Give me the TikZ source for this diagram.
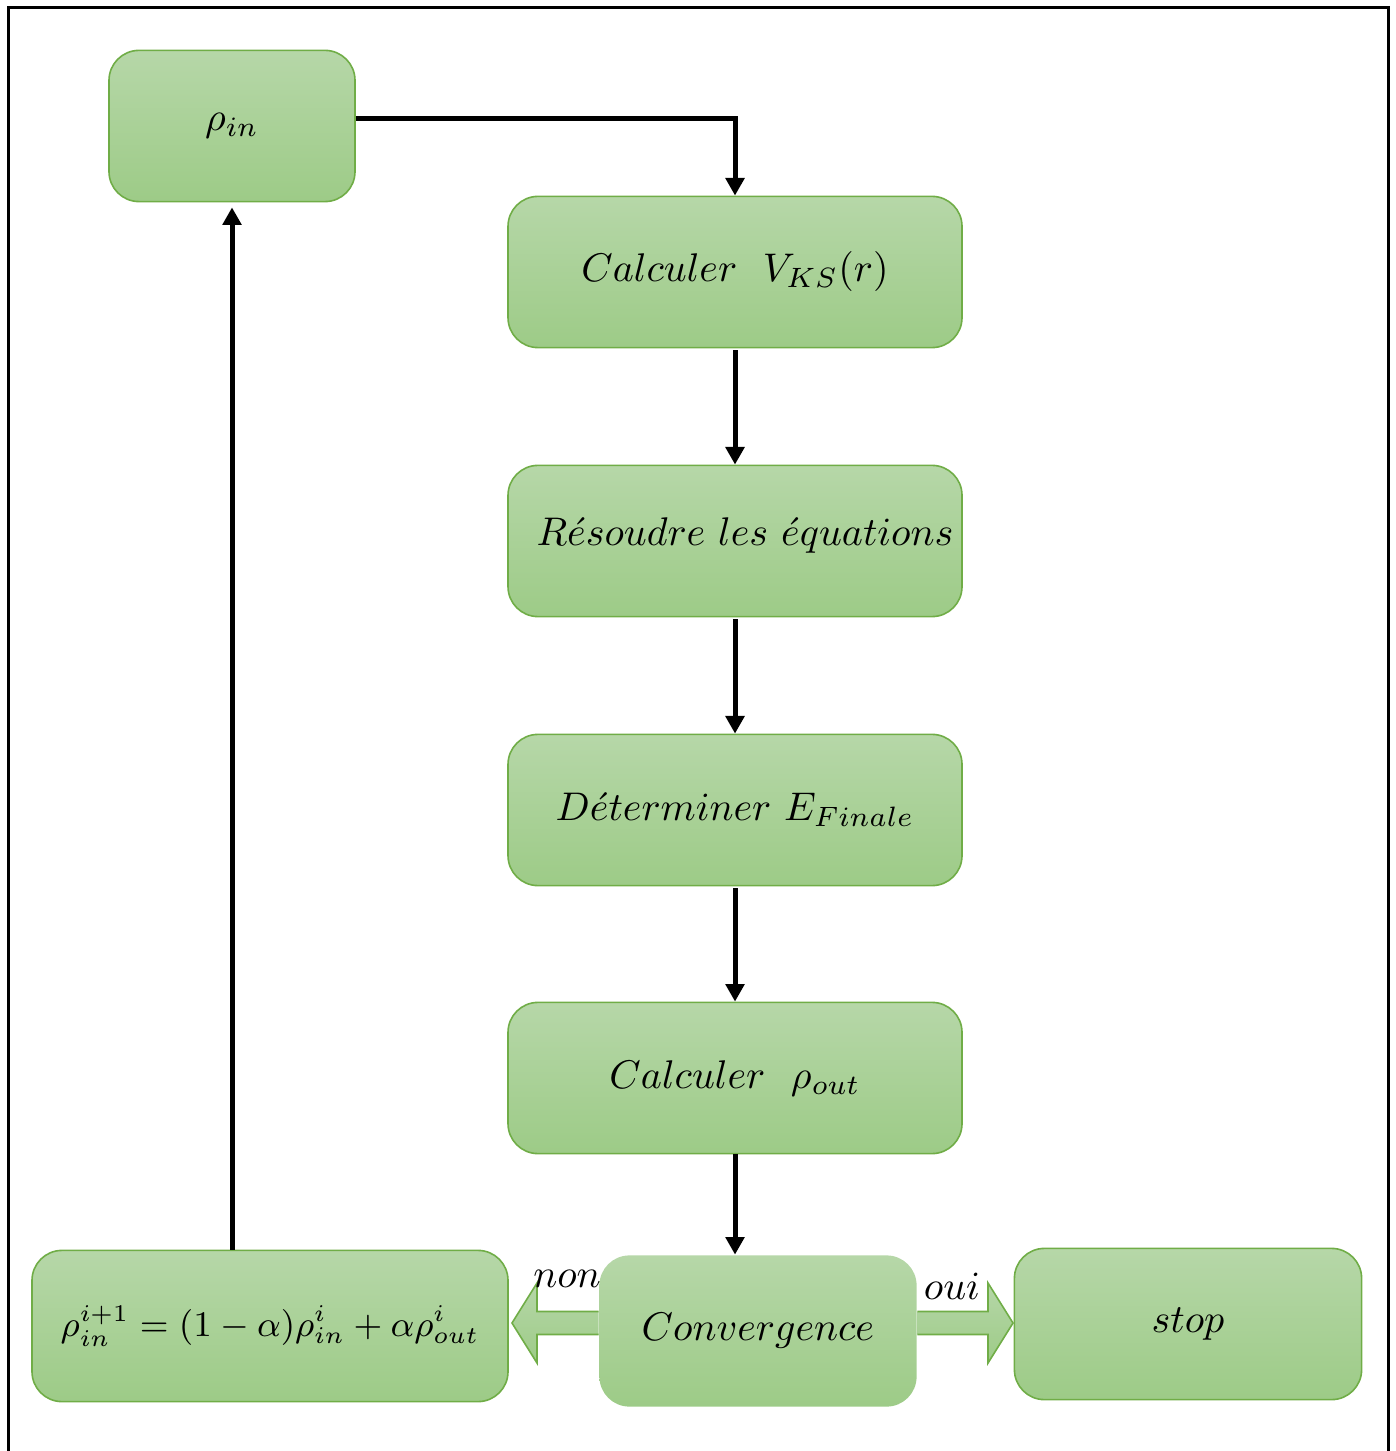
\documentclass[tikz,border=0pt]{standalone}
\usepackage{amsmath,amssymb}
\usepackage{xcolor}
\usepackage{tikz}
\usetikzlibrary{arrows.meta,calc,shadings}
\definecolor{vertclair}{RGB}{182,215,168}
\definecolor{vertfonce}{RGB}{157,203,135}
\definecolor{vertbord}{RGB}{112,173,71}

\begin{document}
\begin{tikzpicture}[x=0.25pt,y=-0.25pt,
    etape/.style={rounded corners=7.5pt,draw=vertbord,line width=0.4pt,
      top color=vertclair,bottom color=vertfonce,minimum height=37.8pt,
      inner sep=0pt,font=\fontsize{9.6}{11}\selectfont},
    fleche/.style={line width=1.25pt,-{Triangle[width=4.6pt,length=4.4pt]}},
    grosse/.style={draw=vertbord,line width=0.4pt,top color=vertclair,
      bottom color=vertfonce},
    mot/.style={font=\fontsize{9.6}{11}\selectfont,inner sep=0pt}]
      \useasboundingbox (0,0) rectangle (1395,1451);
      \draw[line width=0.75pt](8,1460)--(8,8)--(1388,8)--(1388,1460);
      % les etapes
      \node[etape,minimum width=61.5pt](rin) at (232,126){$\rho_{in}$};
      \node[etape,minimum width=113.5pt](vks) at (735,272){$Calculer\ \ V_{KS}(r)$};
      \node[etape,minimum width=113.5pt](res) at (735,541){};
      \node[mot](tres) at (745,536){$R\acute{e}soudre\ les\ \acute{e}quations$};
      \node[etape,minimum width=113.5pt](efin) at (735,810){$D\acute{e}terminer\ E_{Finale}$};
      \node[etape,minimum width=113.5pt](rout) at (735,1078){$Calculer\ \ \rho_{out}$};
      \node[etape,draw=none,minimum width=79.3pt](conv) at (758,1331){$Convergence$};
      \node[etape,minimum width=119pt,font=\fontsize{9.2}{11}\selectfont](mix) at (270,1326)
        {$\rho_{in}^{i+1}=(1-\alpha)\rho_{in}^{i}+\alpha\rho_{out}^{i}$};
      \node[etape,minimum width=86.8pt](stop) at (1188,1324){$stop$};
      % fleches
      \draw[fleche]([yshift=1.75pt]rin.east)-|(vks.north);
      \foreach \a/\b in {vks/res,res/efin,efin/rout}{
        \draw[fleche,shorten <=0.5pt](\a.south)--(\b.north);}
      \draw[fleche](rout.south)--(rout.south |- conv.north);
      \draw[fleche,shorten >=1.25pt](rin.south |- mix.north)--(rin.south);
      % non / oui
      \coordinate (pg) at (512,1323);
      \coordinate (pd) at (1013,1323);
      \draw[grosse](conv.west |- pg)++(0,-11.5)--($(pg)+(25,-11.5)$)--($(pg)+(25,-40)$)
        --(pg)--($(pg)+(25,40)$)--($(pg)+(25,11.5)$)--($(conv.west |- pg)+(0,11.5)$);
      \draw[grosse](conv.east |- pd)++(0,-11.5)--($(pd)+(-25,-11.5)$)--($(pd)+(-25,-40)$)
        --(pd)--($(pd)+(-25,40)$)--($(pd)+(-25,11.5)$)--($(conv.east |- pd)+(0,11.5)$);
      \node[mot](lnon) at (567,1279){$non$};
      \node[mot](loui) at (952,1286){$oui$};
    \end{tikzpicture}
\end{document}
